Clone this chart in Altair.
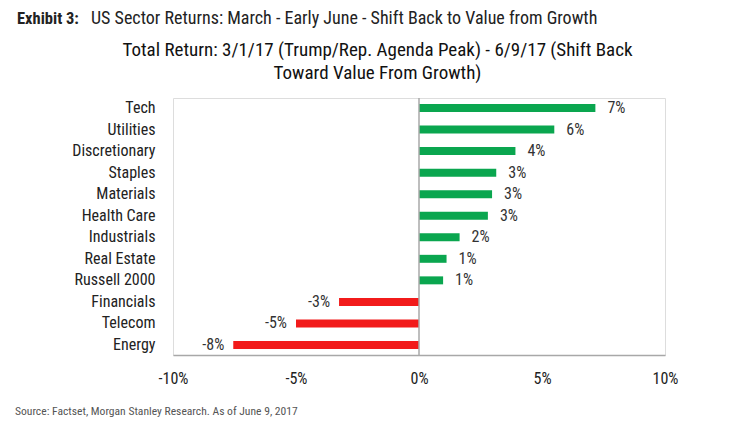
import altair as alt
import pandas as pd

sectors = ["Tech", "Utilities", "Discretionary", "Staples", "Materials", "Health Care",
           "Industrials", "Real Estate", "Russell 2000", "Financials", "Telecom", "Energy"]
returns = [7.17, 5.5, 3.92, 3.14, 2.97, 2.8, 1.65, 1.12, 0.98, -3.25, -5.0, -7.55]
x_ticks = [-10, -5, 0, 5, 10]

header_bold = ["Exhibit 3:"]
header_text = ["US Sector Returns: March - Early June - Shift Back to Value from Growth"]
subtitle_lines = ["Total Return: 3/1/17 (Trump/Rep. Agenda Peak) - 6/9/17 (Shift Back",
                  "Toward Value From Growth)"]
source_text = ["Source: Factset, Morgan Stanley Research. As of June 9, 2017"]

FONT = "Roboto Condensed, Liberation Sans Narrow, Arial Narrow, Roboto, sans-serif"
GREEN = "#0aa64f"
RED = "#f21b1b"

def lab(v):
    r = int(v + 0.5) if v >= 0 else -int(-v + 0.5)
    return f"{r}%"

df = pd.DataFrame({
    "sector": sectors,
    "ret": returns,
    "label": [lab(v) for v in returns],
    "sign": ["pos" if v >= 0 else "neg" for v in returns],
})

y_enc = alt.Y("sector:N", sort=sectors, title=None,
              scale=alt.Scale(paddingInner=0.63, paddingOuter=0.28),
              axis=alt.Axis(domain=False, ticks=False, labelPadding=18, labelFontSize=16,
                            labelFont=FONT, labelColor="#222"))
x_scale = alt.Scale(domain=[-10, 10], nice=False)

base = alt.Chart(df)

bars = base.mark_bar().encode(
    x=alt.X("ret:Q", scale=x_scale, title=None,
            axis=alt.Axis(values=x_ticks, labelExpr="datum.value + '%'", grid=False,
                          ticks=False, domainColor="#a8a8a8", domainWidth=1.5, labelFlush=False,
                          labelPadding=15, labelFontSize=16, labelFont=FONT, labelColor="#222")),
    y=y_enc,
    color=alt.Color("sign:N", scale=alt.Scale(domain=["pos", "neg"], range=[GREEN, RED]), legend=None),
)

pos_labels = base.transform_filter("datum.ret >= 0").mark_text(
    align="left", baseline="middle", dx=12, fontSize=16, font=FONT, color="#333"
).encode(x=alt.X("ret:Q", scale=x_scale), y=alt.Y("sector:N", sort=sectors), text="label:N")

neg_labels = base.transform_filter("datum.ret < 0").mark_text(
    align="right", baseline="middle", dx=-9, fontSize=16, font=FONT, color="#333"
).encode(x=alt.X("ret:Q", scale=x_scale), y=alt.Y("sector:N", sort=sectors), text="label:N")

zero = alt.Chart(pd.DataFrame({"z": [0]})).mark_rule(color="#a8a8a8", strokeWidth=1.5).encode(
    x=alt.X("z:Q", scale=x_scale)
)

t1 = alt.Chart(pd.DataFrame({"t": header_bold})).mark_text(
    align="left", baseline="middle", fontSize=16.5, fontWeight="bold", font=FONT, color="#222"
).encode(text="t:N", x=alt.value(-156), y=alt.value(-79))

t2 = alt.Chart(pd.DataFrame({"t": header_text})).mark_text(
    align="left", baseline="middle", fontSize=18, font=FONT, color="#222"
).encode(text="t:N", x=alt.value(-82), y=alt.value(-79))

s1 = alt.Chart(pd.DataFrame({"t": subtitle_lines[:1]})).mark_text(
    align="center", baseline="middle", fontSize=19, font=FONT, color="#111"
).encode(text="t:N", x=alt.value(204.5), y=alt.value(-48))

s2 = alt.Chart(pd.DataFrame({"t": subtitle_lines[1:]})).mark_text(
    align="center", baseline="middle", fontSize=19, font=FONT, color="#111"
).encode(text="t:N", x=alt.value(204.5), y=alt.value(-25))

src = alt.Chart(pd.DataFrame({"t": source_text})).mark_text(
    align="left", baseline="middle", fontSize=11.6, font=FONT, color="#555"
).encode(text="t:N", x=alt.value(-158), y=alt.value(314))

chart = alt.layer(bars, zero, pos_labels, neg_labels, t1, t2, s1, s2, src).properties(
    width=492, height=257,
    autosize=alt.AutoSizeParams(type="none"),
    padding={"left": 165, "top": 90, "right": 57, "bottom": 68},
).configure_view(stroke=None).configure(background="white")

chart.save("out.html", embed_options={"renderer": "svg", "actions": False})
